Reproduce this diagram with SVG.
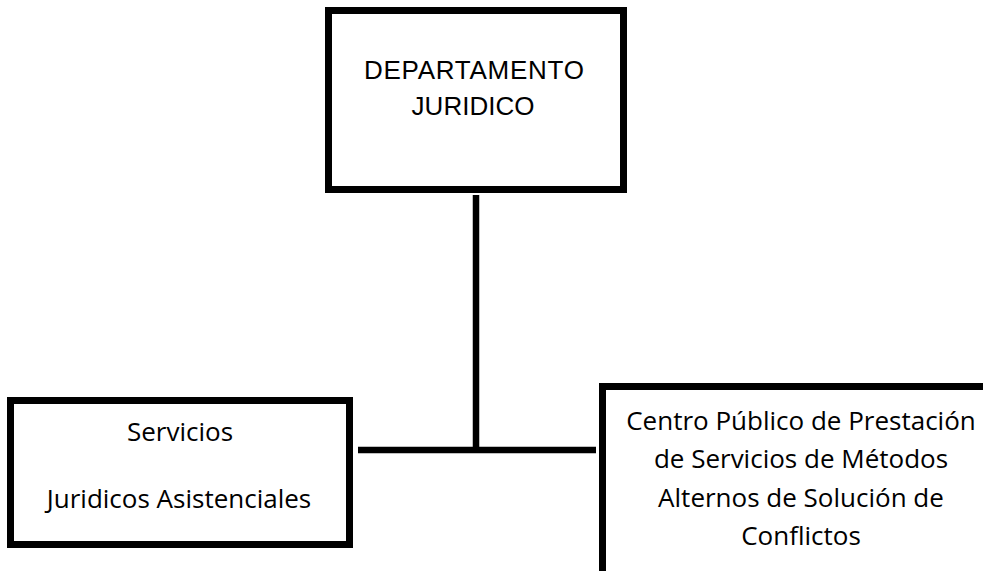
<svg xmlns="http://www.w3.org/2000/svg" width="983" height="571" viewBox="0 0 983 571">
<style>
.box{fill:#fff;stroke:#000;stroke-width:7}
.con{stroke:#000;stroke-width:6.5;fill:none}
.ta{font-family:"Liberation Sans",Arial,sans-serif;font-size:26px;fill:#000;text-anchor:middle}
.tc{font-family:"Open Sans","Noto Sans",sans-serif;font-size:26px;fill:#000;text-anchor:middle}
</style>
<rect width="983" height="571" fill="#fff"/>
<g id="connectors">
<line class="con" x1="476" y1="195" x2="476" y2="453"/>
<line class="con" x1="358" y1="450" x2="596" y2="450"/>
</g>
<g id="node-departamento">
<rect class="box" x="328.5" y="10.5" width="295" height="179"/>
<text class="ta" x="474" y="79" textLength="220">DEPARTAMENTO</text>
<text class="ta" x="473" y="115">JURIDICO</text>
</g>
<g id="node-servicios">
<rect class="box" x="10.5" y="400.5" width="339" height="144"/>
<text class="tc" x="180" y="441">Servicios</text>
<text class="tc" x="179" y="508">Juridicos Asistenciales</text>
</g>
<g id="node-centro">
<rect class="box" x="602.5" y="386.5" width="420" height="260"/>
<text class="tc" x="801" y="430">Centro Público de Prestación</text>
<text class="tc" x="801" y="468">de Servicios de Métodos</text>
<text class="tc" x="801" y="507">Alternos de Solución de</text>
<text class="tc" x="801" y="545">Conflictos</text>
</g>
</svg>
